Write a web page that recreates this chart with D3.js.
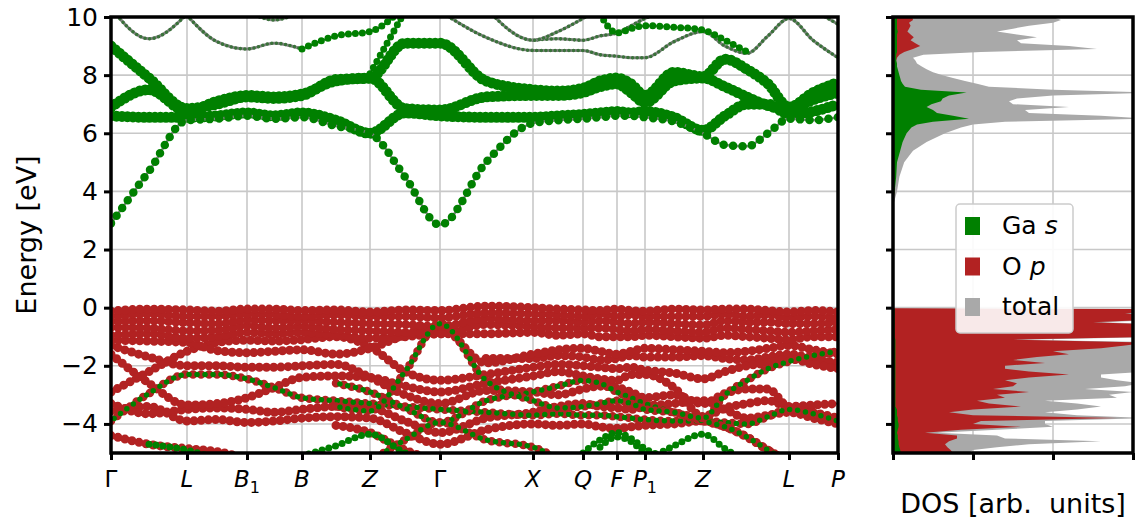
<!DOCTYPE html>
<html>
<head>
<meta charset="utf-8">
<script src="https://cdn.jsdelivr.net/npm/d3@7"></script>
<style>
    body { margin: 0; background: #fff; }
    text { font-family: 'DejaVu Sans', sans-serif; fill: #000; }
</style>
</head>
<body>
<svg id="chart" width="1137" height="523"></svg>
<script>
const _ = null; // no value read at this k node

/**
 * k-path: high-symmetry points and the nodes where band energies were read.
 */
const kLabels = ['Γ', 'L', 'B', 'B', 'Z', 'Γ', 'X', 'Q', 'F', 'P', 'Z', 'L', 'P'],
    kSubscripts = ['', '', '1', '', '', '', '', '', '', '1', '', '', ''],
    kTicks = [0, 0.76, 1.36, 1.91, 2.59, 3.29, 4.22, 4.72, 5.06, 5.34, 5.92, 6.78, 7.27];

const kNodes = [0, 0.38, 0.76, 1.06, 1.36, 1.63, 1.91, 2.25, 2.59,
    2.94, 3.29, 3.75, 4.22, 4.47, 4.72, 4.89, 5.06, 5.20,
    5.34, 5.63, 5.92, 6.14, 6.36, 6.57, 6.78, 7.02, 7.27];

const energyTicks = [-4, -2, 0, 2, 4, 6, 8, 10],
    dosTicks = [0, 1, 2, 3];

/**
 * Conduction bands (eV), one value per k node.
 */
const cbLowest = [2.90, 4.70, 6.45, 6.50, 6.60, 6.50, 6.55, 6.25, 6.00,
    4.50, 2.85, 5.00, 6.35, 6.45, 6.50, 6.55, 6.60, 6.60,
    6.55, 6.40, 6.00, 5.60, 5.55, 6.00, 6.50, 6.45, 6.55];
const cbFlat = [6.60, 6.55, 6.55, 6.60, 6.70, 6.60, 6.70, 6.45, 6.00,
    6.70, 6.60, 6.55, 6.55, 6.60, 6.65, 6.70, 6.75, 6.70,
    6.75, 6.55, 6.10, 6.60, 7.00, 7.00, 6.65, 6.75, 7.00];
const cbUpper = [6.90, 7.50, 6.75, 7.10, 7.30, 7.25, 7.35, 7.80, 7.90,
    6.85, 6.80, 7.25, 7.30, 7.30, 7.40, 7.60, 7.70, 7.40,
    7.05, 7.80, 7.90, 7.60, 7.25, 6.95, 6.80, 7.15, 7.40];
const cbTop = [9.00, 7.90, 6.85, 7.00, 7.25, 7.20, 7.30, 7.85, 7.90,
    9.10, 9.10, 7.80, 7.50, 7.45, 7.55, 7.80, 7.90, 7.70,
    7.30, 8.10, 7.95, 8.55, 8.20, 7.70, 6.90, 7.40, 7.75];

// Weak, mixed-character bands near the top of the window
const thin1 = [10.30, 9.25, 10.10, _, _, _, _, _, _,
    _, _, _, _, _, _, _, _, _,
    _, _, _, _, _, _, _, _, _];
const thin2 = [_, _, 10.05, 9.15, 8.90, 9.10, 8.90, _, _,
    _, _, _, _, _, _, _, _, _,
    _, _, _, _, _, _, _, _, _];
const thin3 = [_, _, _, _, 10.20, 9.90, 10.20, _, _,
    _, _, _, _, _, _, _, _, _,
    _, _, _, _, _, _, _, _, _];
const thin4 = [_, _, _, _, _, _, _, _, _,
    _, 10.20, 9.30, 8.85, 8.85, 8.85, 8.70, 8.65, 8.60,
    8.60, 9.15, 9.50, 9.00, 8.75, 9.35, 9.95, 9.20, 8.60];
const thin5 = [_, _, _, _, _, _, _, _, _,
    _, _, _, 9.20, 9.25, 9.20, 9.35, 9.45, 9.70,
    9.95, 10.30, _, _, _, _, _, _, _];
const thin6 = [_, _, _, _, _, _, _, _, _,
    _, _, 10.30, 9.20, 9.50, 9.95, 10.30, _, _,
    _, _, _, _, _, _, _, _, _];
const thin7 = [_, _, _, _, _, _, _, _, _,
    _, _, _, _, _, _, _, _, _,
    _, _, _, _, _, _, _, 10.25, 9.75];
const green1 = [_, _, _, _, _, _, 8.90, 9.35, 9.50,
    10.40, _, _, _, _, _, _, _, _,
    _, _, _, _, _, _, _, _, _];
const green2 = [_, _, _, _, _, _, _, _, 8.05,
    10.20, _, _, _, _, _, _, _, _,
    _, _, _, _, _, _, _, _, _];
const green3 = [_, _, _, _, _, _, _, _, _,
    _, _, _, _, _, _, 10.10, 9.45, 9.60,
    9.70, 9.65, 9.55, 9.20, 8.80, _, _, _, _];

/**
 * Valence bands (eV), O p character.
 */
const vb1 = [-0.12, -0.05, -0.08, -0.12, -0.05, -0.05, -0.10, -0.08, -0.15,
    -0.08, -0.10, 0.05, 0.00, -0.05, -0.08, -0.10, -0.05, -0.10,
    -0.12, -0.05, -0.08, -0.05, -0.05, -0.10, -0.15, -0.10, -0.15];
const vb2 = [-0.30, -0.22, -0.30, -0.30, -0.22, -0.25, -0.30, -0.25, -0.30,
    -0.30, -0.35, -0.18, -0.22, -0.25, -0.30, -0.22, -0.30, -0.25,
    -0.30, -0.30, -0.30, -0.22, -0.30, -0.25, -0.35, -0.30, -0.35];
const vb3 = [-0.48, -0.45, -0.52, -0.55, -0.42, -0.45, -0.45, -0.50, -0.55,
    -0.58, -0.65, -0.38, -0.45, -0.45, -0.50, -0.45, -0.50, -0.55,
    -0.50, -0.55, -0.60, -0.45, -0.50, -0.50, -0.55, -0.55, -0.50];
const vb4 = [-0.68, -0.70, -0.80, -0.78, -0.62, -0.70, -0.65, -0.75, -0.80,
    -0.85, -0.90, -0.58, -0.65, -0.70, -0.70, -0.70, -0.75, -0.80,
    -0.75, -0.80, -0.85, -0.70, -0.75, -0.80, -0.85, -0.80, -0.75];
const vb5 = [-0.95, -0.90, -1.05, -1.00, -0.85, -0.90, -0.85, -0.95, -1.05,
    -1.00, -0.90, -0.90, -0.85, -0.95, -0.90, -1.00, -1.00, -1.00,
    -0.95, -1.00, -1.05, -0.95, -1.00, -1.05, -1.10, -1.00, -1.00];
const vb6 = [-1.12, -1.15, -1.20, -1.48, -1.55, -1.50, -1.45, -1.60, -1.40,
    -0.95, -0.70, -1.90, -1.60, -1.45, -1.40, -1.50, -1.60, -1.50,
    -1.40, -1.45, -1.50, -1.55, -1.50, -1.40, -1.30, -1.45, -1.60];
const vb7 = [-2.90, -2.20, -1.50, -1.20, -1.12, -1.15, -1.10, -1.00, -1.35,
    -2.20, -2.50, -2.30, -2.05, -1.95, -2.00, -2.05, -2.10, -2.05,
    -2.15, -2.25, -2.45, -2.20, -2.00, -1.90, -1.75, -1.95, -2.10];
const vb8 = [-1.30, -1.70, -2.00, -2.00, -2.05, -2.05, -2.00, -1.95, -2.40,
    -3.00, -3.30, -2.85, -2.90, -3.00, -2.80, -2.70, -2.75, -2.90,
    -3.10, -3.00, -3.30, -2.95, -2.80, -2.80, -3.40, -3.35, -3.30];
const vb9 = [-1.60, -2.60, -3.35, -3.30, -3.10, -2.75, -2.40, -2.35, -2.40,
    -2.70, -2.90, -2.60, -2.35, -2.20, -2.35, -2.45, -2.50, -2.30,
    -2.30, -2.75, -3.75, -3.45, -3.30, -3.20, -3.45, -3.60, -3.80];
const vb10 = [-3.30, -3.65, -3.50, -3.45, -3.50, -3.60, -3.50, -3.40, -3.45,
    -3.90, -4.30, -3.80, -3.60, -3.40, -3.30, -3.40, -3.45, -3.50,
    -3.40, -3.30, -3.20, -3.50, -3.80, -3.70, -3.60, -3.80, -4.00];
const vb11 = [-3.55, -3.40, -3.90, -3.85, -3.95, -3.90, -3.80, -3.75, -3.80,
    -4.30, -4.70, -4.20, -4.00, -4.05, -4.00, -4.10, -4.15, -4.10,
    -4.05, -4.00, -3.90, -4.10, -4.45, -4.90, -5.30, _, _];
const vb12 = [-4.40, -4.70, -4.85, -4.95, -5.20, _, _, _, _,
    _, _, _, _, _, _, _, _, _,
    _, _, _, _, _, _, _, _, _];
const vb13 = [_, _, _, _, _, _, _, -4.05, -4.30,
    -4.90, -5.30, _, _, _, _, _, _, _,
    _, _, _, _, _, _, _, _, _];
const vb14 = [_, _, _, _, _, _, _, _, _,
    _, _, -1.75, -1.75, -1.65, -1.70, -1.80, -1.75, -1.65,
    -1.70, -1.70, -1.65, -1.75, -1.80, -1.70, -1.60, -1.75, -1.90];

// Valence bands with a visible Ga s share
const mxApex = [_, _, _, _, _, _, _, -3.40, -3.55,
    -2.20, -0.55, -2.50, -3.20, -3.45, -3.40, -3.30, -3.20, -3.30,
    -3.50, -3.60, -3.80, -3.00, -2.50, -2.10, -1.85, -1.65, -1.50];
const mxValley = [_, _, _, _, _, _, _, -2.60, -2.90,
    -3.45, -3.95, -3.20, -2.90, -2.70, -2.50, -2.60, -2.90, -3.10,
    -3.30, -3.60, -3.90, -4.10, -4.45, -4.90, -5.30, _, _];
const mxGamma = [-3.90, -2.95, -2.30, -2.30, -2.45, -2.75, -3.10, -3.20, -3.30,
    -3.40, -3.50, -3.60, -3.70, -3.65, -3.70, -3.70, -3.75, -3.80,
    -3.85, -3.90, -3.90, -3.95, -4.00, -3.75, -3.50, -3.65, -3.90];
const mxLow = [_, _, _, _, _, _, _, _, -5.30,
    -4.55, -3.95, -4.55, -4.80, -5.20, _, _, _, _,
    _, _, _, _, _, _, _, _, _];

// Deep Ga s bands at the bottom of the window
const gnLeft = [_, -4.70, -4.90, -5.20, _, _, _, _, _,
    _, _, _, _, _, _, _, _, _,
    _, _, _, _, _, _, _, _, _];
const gnZ1 = [_, _, _, _, _, _, -5.10, -4.75, -4.35,
    -5.00, -5.40, _, _, _, _, _, _, _,
    _, _, _, _, _, _, _, _, _];
const gnF1 = [_, _, _, _, _, _, _, _, _,
    _, _, _, _, _, -5.00, -4.55, -4.30, -4.50,
    -4.85, -5.20, _, _, _, _, _, _, _];
const gnF2 = [_, _, _, _, _, _, _, _, _,
    _, _, _, _, _, _, -4.80, -4.45, -4.60,
    -5.00, -5.40, _, _, _, _, _, _, _];
const gnZ2 = [_, _, _, _, _, _, _, _, _,
    _, _, _, _, _, _, _, _, _,
    -5.30, -4.75, -4.35, -4.85, -5.30, _, _, _, _];

/**
 * Density of states (arb. units) against energy (eV).
 */
const dosEnergy = [-5.0, -4.9, -4.8, -4.7, -4.6, -4.5, -4.4, -4.3, -4.2, -4.1,
    -4.0, -3.9, -3.8, -3.7, -3.6, -3.5, -3.4, -3.3, -3.2, -3.1,
    -3.0, -2.9, -2.8, -2.7, -2.6, -2.5, -2.4, -2.3, -2.2, -2.1,
    -2.0, -1.9, -1.8, -1.7, -1.6, -1.5, -1.4, -1.3, -1.2, -1.1,
    -1.0, -0.9, -0.8, -0.7, -0.6, -0.5, -0.4, -0.3, -0.2, -0.1,
    -0.05, -0.02, 3.5, 3.8, 4.0, 4.5, 5.0, 5.4, 5.7, 6.0,
    6.2, 6.3, 6.4, 6.5, 6.6, 6.7, 6.8, 6.9, 7.0, 7.1,
    7.2, 7.3, 7.4, 7.5, 7.6, 7.7, 7.8, 7.9, 8.0, 8.1,
    8.2, 8.3, 8.4, 8.5, 8.6, 8.7, 8.8, 8.9, 9.0, 9.1,
    9.2, 9.3, 9.4, 9.5, 9.6, 9.7, 9.8, 9.9, 10.0];
const dosTotal = [0.95, 1.00, 1.30, 1.70, 2.60, 1.40, 1.30, 0.55, 1.30, 2.00,
    1.90, 1.90, 3.20, 2.30, 1.90, 2.30, 2.60, 2.30, 1.90, 2.80,
    2.70, 3.00, 2.40, 2.90, 3.10, 2.80, 2.60, 2.60, 3.20, 3.20,
    3.30, 3.30, 3.00, 3.20, 3.40, 3.40, 3.40, 3.50, 3.60, 1.60,
    3.50, 3.60, 3.40, 3.60, 3.60, 2.60, 3.60, 3.70, 3.40, 3.50,
    3.40, 0.00, 0.00, 0.03, 0.05, 0.08, 0.14, 0.25, 0.42, 0.65,
    0.85, 1.00, 1.40, 3.20, 2.60, 1.70, 1.65, 2.20, 1.50, 1.45,
    1.55, 2.00, 3.30, 2.00, 1.20, 1.05, 0.90, 0.75, 0.62, 0.50,
    0.42, 0.36, 0.30, 0.28, 0.25, 0.38, 1.10, 2.55, 2.20, 1.60,
    1.55, 1.80, 1.55, 1.30, 1.50, 1.70, 2.00, 2.10, 2.00];
const dosOxygenP = [0.75, 0.72, 0.68, 0.65, 0.70, 0.80, 0.80, 0.40, 0.85, 1.60,
    1.00, 1.10, 2.80, 1.00, 0.70, 1.00, 1.60, 1.20, 1.05, 1.40,
    1.30, 1.70, 1.25, 1.50, 1.55, 1.40, 1.70, 2.20, 1.70, 1.40,
    1.40, 1.90, 1.50, 1.80, 2.20, 2.00, 2.60, 2.90, 3.20, 1.50,
    3.30, 3.30, 3.10, 3.40, 3.40, 2.50, 3.40, 3.50, 2.90, 3.30,
    3.20, 0.00, 0.00, 0.01, 0.02, 0.02, 0.03, 0.03, 0.03, 0.04,
    0.04, 0.04, 0.05, 0.06, 0.05, 0.05, 0.05, 0.05, 0.05, 0.05,
    0.05, 0.05, 0.06, 0.05, 0.04, 0.04, 0.04, 0.04, 0.04, 0.04,
    0.04, 0.04, 0.04, 0.04, 0.05, 0.08, 0.14, 0.25, 0.34, 0.28,
    0.22, 0.26, 0.22, 0.18, 0.20, 0.22, 0.20, 0.25, 0.24];
const dosGalliumS = [0.10, 0.09, 0.08, 0.07, 0.07, 0.06, 0.06, 0.05, 0.06, 0.07,
    0.07, 0.06, 0.06, 0.05, 0.05, 0.05, 0.03, 0.03, 0.03, 0.03,
    0.03, 0.03, 0.03, 0.03, 0.03, 0.03, 0.03, 0.03, 0.03, 0.03,
    0.03, 0.03, 0.03, 0.03, 0.03, 0.03, 0.03, 0.03, 0.03, 0.03,
    0.02, 0.02, 0.02, 0.02, 0.02, 0.02, 0.02, 0.02, 0.02, 0.02,
    0.02, 0.00, 0.00, 0.01, 0.02, 0.04, 0.05, 0.09, 0.12, 0.17,
    0.23, 0.30, 0.50, 0.95, 0.75, 0.55, 0.50, 0.42, 0.48, 0.60,
    0.62, 0.70, 0.92, 0.35, 0.15, 0.12, 0.10, 0.09, 0.08, 0.07,
    0.06, 0.05, 0.05, 0.04, 0.04, 0.04, 0.05, 0.05, 0.05, 0.05,
    0.05, 0.05, 0.05, 0.06, 0.05, 0.05, 0.05, 0.05, 0.05];

const legendLabels = [['Ga ', 's'], ['O ', 'p'], ['total', '']];

/**
 * Visual configs.
 */
const bandBox = { left: 111, right: 838, top: 17, bottom: 453 },
    dosBox = { left: 893, right: 1133, top: 17, bottom: 453 };

const green = '#008000', red = '#b22222', grey = '#a9a9a9';

const styles = {
    thin: { line: '#858585', lineWidth: 3, dots: [{ color: '#3a723a', size: 3.6, gap: 4.6, offset: 0 }] },
    cbBig: { line: '#808080', lineWidth: 2, dots: [{ color: green, size: 11, gap: 5.5, offset: 0 }] },
    cbLow: { line: '#808080', lineWidth: 2.5, dots: [{ color: green, size: 8.5, gap: 9.5, offset: 0 }] },
    greenMid: { line: '#808080', lineWidth: 2, dots: [{ color: green, size: 7, gap: 7, offset: 0 }] },
    red: { line: '#8a3a30', lineWidth: 2, dots: [{ color: red, size: 9, gap: 7.2, offset: 0 }] },
    mixed: { line: '#6a5a40', lineWidth: 2, dots: [
        { color: red, size: 8.5, gap: 8, offset: 0 },
        { color: green, size: 5.5, gap: 8, offset: -4 }
    ] }
};

const svg = d3.select('#chart');

/**
 * D3 scales.
 */
const xScale = d3.scaleLinear().domain([kTicks[0], kTicks[kTicks.length - 1]]).range([bandBox.left, bandBox.right]),
    yScale = d3.scaleLinear().domain([-5, 10]).range([bandBox.bottom, bandBox.top]),
    dosScale = d3.scaleLinear().domain([0, 3]).range([dosBox.left, dosBox.right]);

const bandLine = d3.line()
    .defined(d => d[1] !== null)
    .x(d => xScale(d[0]))
    .y(d => yScale(d[1]))
    .curve(d3.curveMonotoneX);

/**
 * Clip paths.
 */
const defs = svg.append('defs');
[['clip-band', bandBox], ['clip-dos', dosBox]].forEach(([id, b]) => {
    defs.append('clipPath').attr('id', id).append('rect')
        .attr('x', b.left).attr('y', b.top)
        .attr('width', b.right - b.left).attr('height', b.bottom - b.top);
});

/**
 * Grids.
 */
function drawGrid(box, xs, ys) {
    const g = svg.append('g').attr('class', 'grid')
        .attr('stroke', '#c8c8c8').attr('stroke-width', 1.6);
    xs.forEach(v => g.append('line').attr('x1', v).attr('x2', v).attr('y1', box.top).attr('y2', box.bottom));
    ys.forEach(v => g.append('line').attr('x1', box.left).attr('x2', box.right).attr('y1', v).attr('y2', v));
}

drawGrid(bandBox, kTicks.map(xScale), energyTicks.map(yScale));
drawGrid(dosBox, dosTicks.map(dosScale), energyTicks.map(yScale));

/**
 * Bands drawn as dotted curves.
 */
const bandLayer = svg.append('g').attr('clip-path', 'url(#clip-band)');

function drawBands(bands, style) {
    bands.forEach(band => {
        const d = bandLine(kNodes.map((k, i) => [k, band[i]]));
        if (style.line) {
            bandLayer.append('path').attr('d', d)
                .attr('fill', 'none')
                .attr('stroke', style.line)
                .attr('stroke-width', style.lineWidth);
        }
        style.dots.forEach(dot => {
            bandLayer.append('path').attr('d', d)
                .attr('fill', 'none')
                .attr('stroke', dot.color)
                .attr('stroke-width', dot.size)
                .attr('stroke-linecap', 'round')
                .attr('stroke-dasharray', '0 ' + dot.gap)
                .attr('stroke-dashoffset', dot.offset);
        });
    });
}

drawBands([thin1, thin2, thin3, thin4, thin5, thin6, thin7], styles.thin);
drawBands([green1, green2, green3], styles.greenMid);
drawBands([cbTop, cbUpper, cbFlat], styles.cbBig);
drawBands([cbLowest], styles.cbLow);
drawBands([vb14, vb13, vb12, vb11, vb10, vb9, vb8, vb7, vb6, vb5, vb4, vb3, vb2, vb1], styles.red);
drawBands([mxGamma, mxValley, mxApex, mxLow], styles.mixed);
drawBands([gnLeft, gnZ1, gnF1, gnF2, gnZ2], styles.greenMid);

/**
 * DOS as filled areas, total behind the projections.
 */
const dosLayer = svg.append('g').attr('clip-path', 'url(#clip-dos)');

function dosArea(values) {
    return d3.area()
        .y(d => yScale(d[0]))
        .x0(dosScale(0))
        .x1(d => dosScale(d[1]))(dosEnergy.map((e, i) => [e, values[i]]));
}

[[dosTotal, grey], [dosOxygenP, red], [dosGalliumS, green]].forEach(([values, color]) => {
    dosLayer.append('path').attr('d', dosArea(values)).attr('fill', color);
});

/**
 * Axes: ticks, labels and frames.
 */
function styleAxis(g) {
    g.select('.domain').remove();
    g.selectAll('.tick line').attr('stroke', '#000').attr('stroke-width', 3);
}

svg.append('g')
    .attr('transform', 'translate(' + bandBox.left + ',0)')
    .call(d3.axisLeft(yScale).tickValues(energyTicks).tickSize(7).tickPadding(6))
    .call(styleAxis)
    .call(g => g.selectAll('.tick text').attr('font-size', 25).attr('font-family', 'DejaVu Sans').attr('fill', '#000'));

svg.append('g')
    .attr('transform', 'translate(' + dosBox.left + ',0)')
    .call(d3.axisLeft(yScale).tickValues(energyTicks).tickSize(7).tickFormat(''))
    .call(styleAxis);

svg.append('g')
    .attr('transform', 'translate(0,' + bandBox.bottom + ')')
    .call(d3.axisBottom(xScale).tickValues(kTicks).tickSize(7).tickFormat(''))
    .call(styleAxis);

svg.append('g')
    .attr('transform', 'translate(0,' + dosBox.bottom + ')')
    .call(d3.axisBottom(dosScale).tickValues(dosTicks).tickSize(7).tickFormat(''))
    .call(styleAxis);

// High-symmetry point labels
kTicks.forEach((k, i) => {
    const t = svg.append('text')
        .attr('x', xScale(k))
        .attr('y', 487)
        .attr('text-anchor', 'middle')
        .attr('font-size', 23)
        .attr('font-style', kLabels[i] === 'Γ' ? 'normal' : 'italic')
        .text(kLabels[i]);
    if (kSubscripts[i]) {
        t.append('tspan')
            .attr('font-size', 16)
            .attr('font-style', 'normal')
            .attr('dy', 6)
            .text(kSubscripts[i]);
    }
});

[bandBox, dosBox].forEach(b => {
    svg.append('rect')
        .attr('x', b.left).attr('y', b.top)
        .attr('width', b.right - b.left).attr('height', b.bottom - b.top)
        .attr('fill', 'none').attr('stroke', '#000').attr('stroke-width', 3.5);
});

svg.append('text')
    .attr('transform', 'translate(36,' + (bandBox.top + bandBox.bottom) / 2 + ') rotate(-90)')
    .attr('text-anchor', 'middle')
    .attr('font-size', 27)
    .text('Energy [eV]');

svg.append('text')
    .attr('x', (dosBox.left + dosBox.right) / 2)
    .attr('y', 513)
    .attr('text-anchor', 'middle')
    .attr('font-size', 27)
    .attr('xml:space', 'preserve')
    .text('DOS [arb.  units]');

/**
 * Legend.
 */
const legend = svg.append('g');
legend.append('rect')
    .attr('x', 956).attr('y', 204).attr('width', 117).attr('height', 129).attr('rx', 4)
    .attr('fill', '#fff').attr('fill-opacity', 0.9)
    .attr('stroke', '#cccccc').attr('stroke-width', 1.5);

[green, red, grey].forEach((color, i) => {
    const y0 = 217 + i * 40.5;
    legend.append('rect').attr('x', 965).attr('y', y0).attr('width', 15).attr('height', 18).attr('fill', color);
    const t = legend.append('text').attr('x', 1002).attr('y', y0 + 17).attr('font-size', 25)
        .attr('xml:space', 'preserve')
        .text(legendLabels[i][0]);
    if (legendLabels[i][1]) {
        t.append('tspan').attr('font-style', 'italic').text(legendLabels[i][1]);
    }
});
</script>
</body>
</html>
